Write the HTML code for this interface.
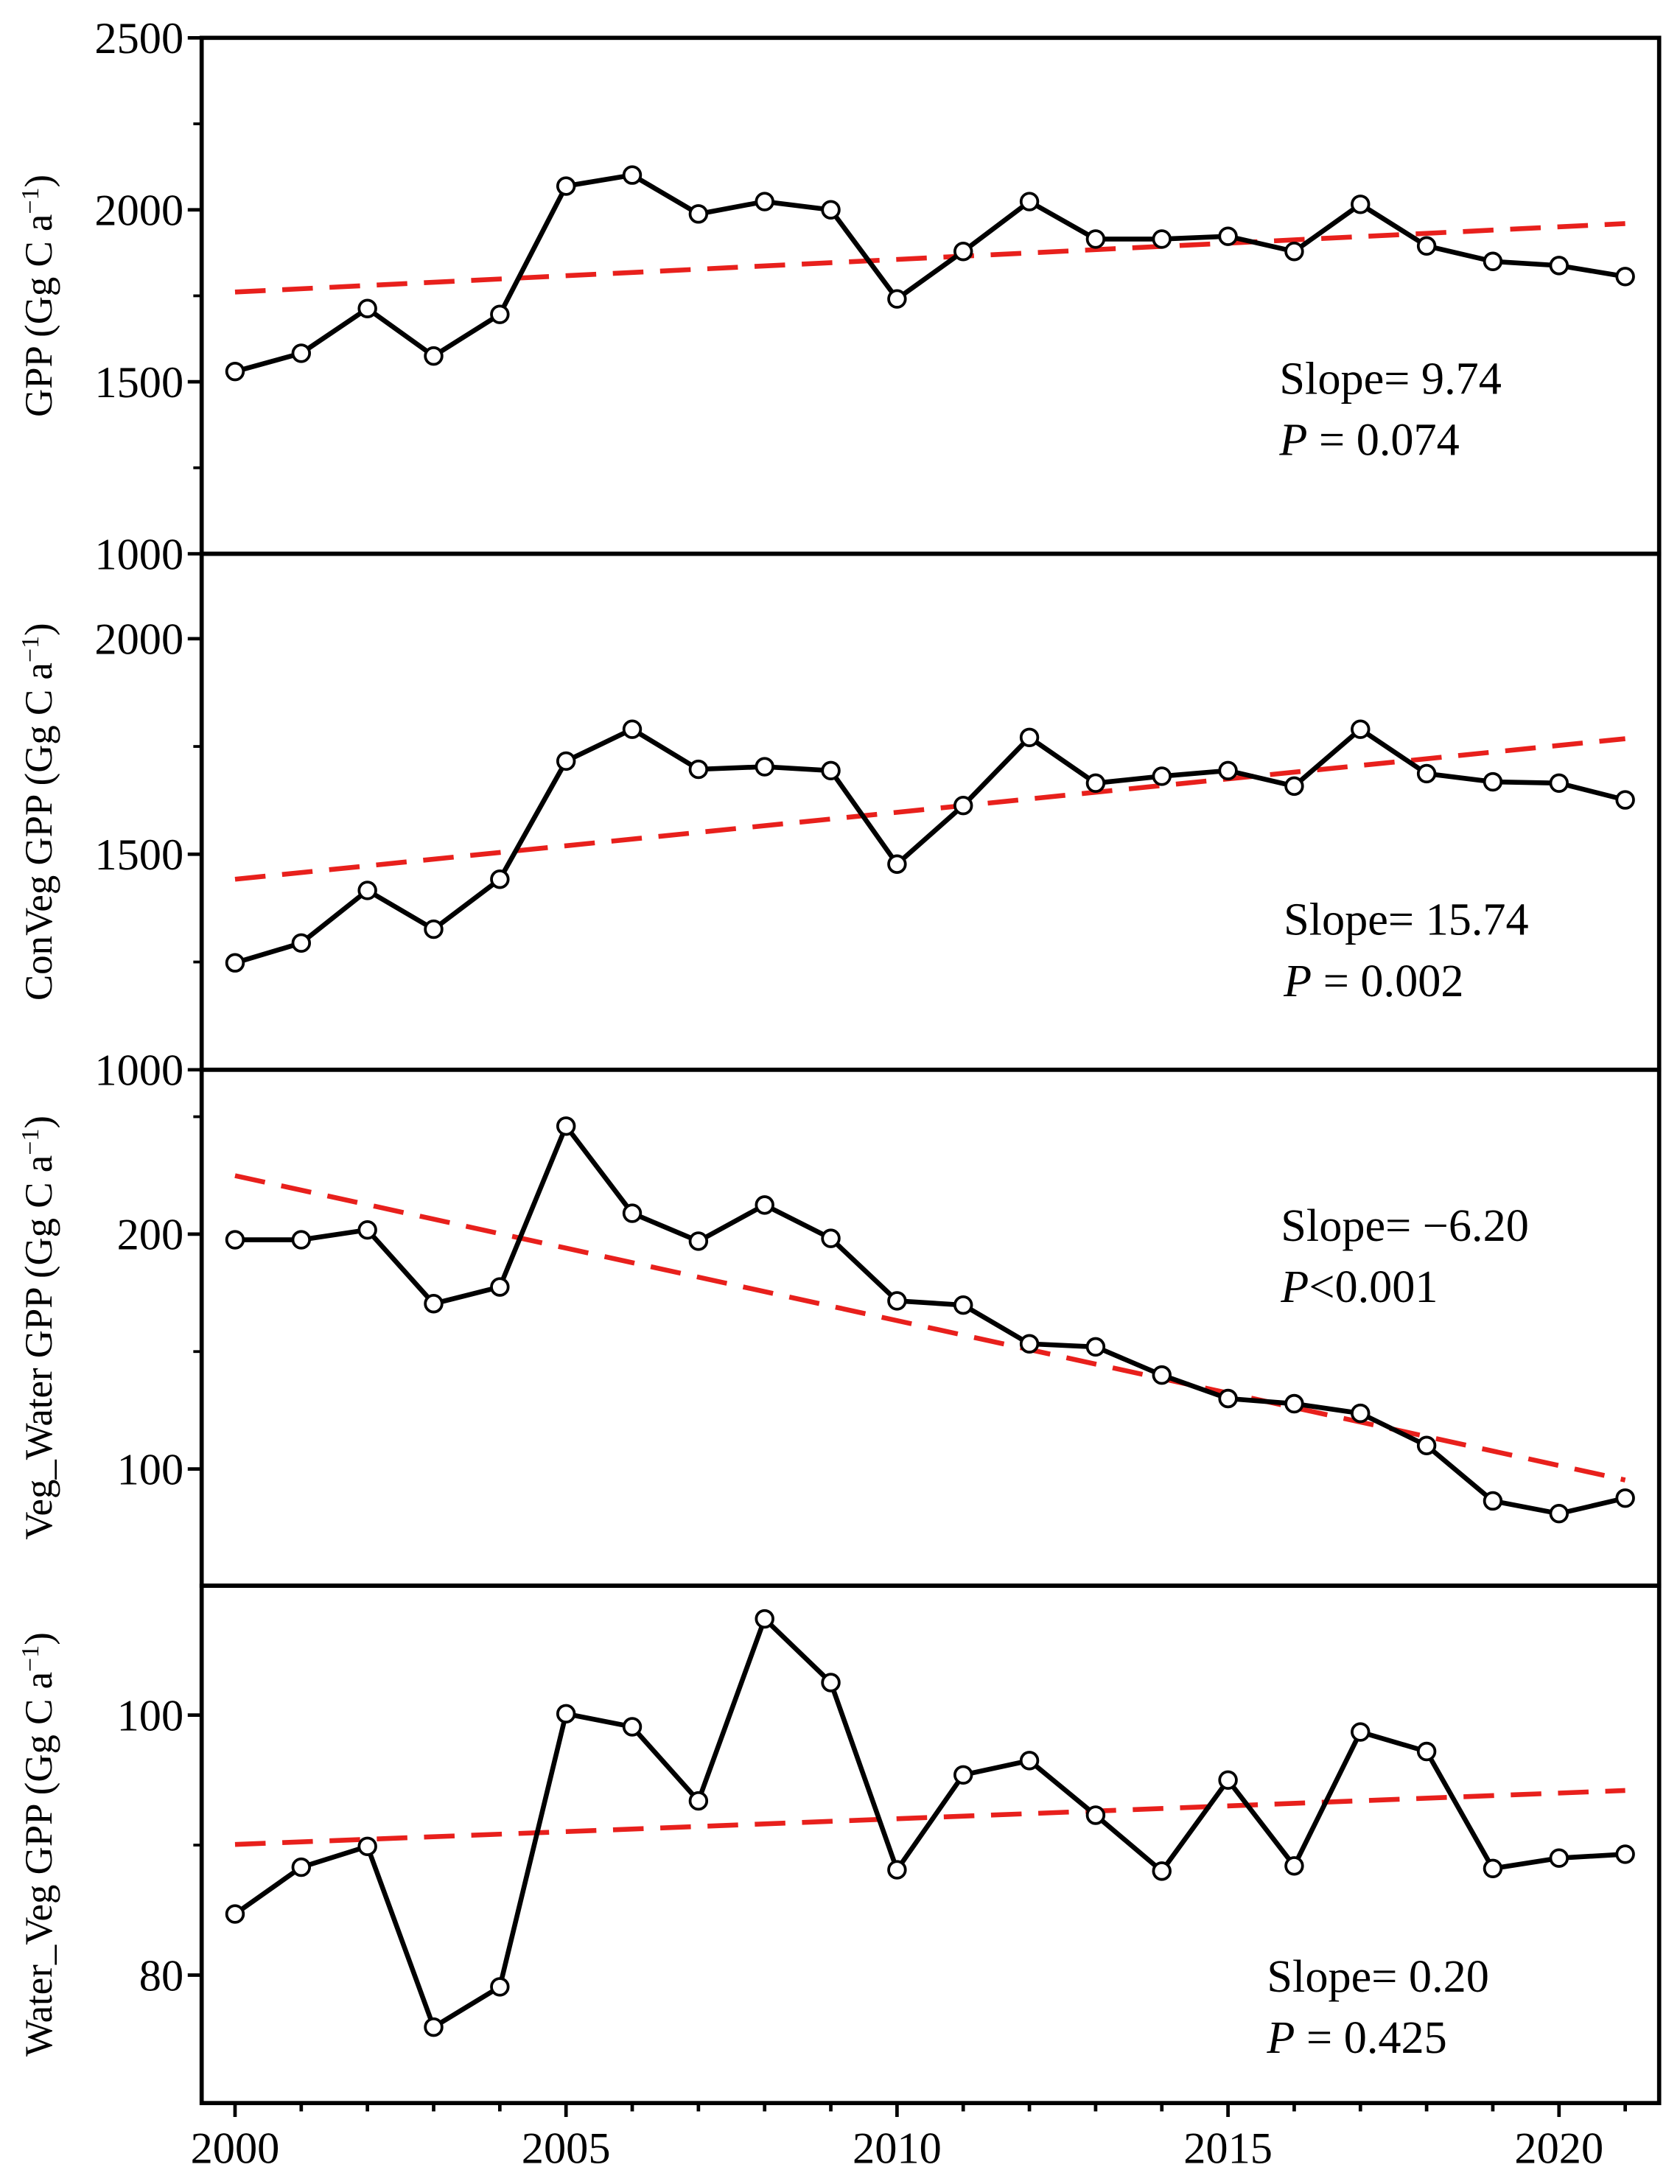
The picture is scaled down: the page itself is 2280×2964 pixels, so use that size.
<!DOCTYPE html>
<html><head><meta charset="utf-8"><style>html,body{margin:0;padding:0;background:#fff}svg{display:block}</style></head>
<body>
<svg id="chart" width="2280" height="2964" viewBox="0 0 1208 1570" xmlns="http://www.w3.org/2000/svg" font-family="'Liberation Serif', serif"></svg>
<script>
const years = [2000,2001,2002,2003,2004,2005,2006,2007,2008,2009,2010,2011,2012,2013,2014,2015,2016,2017,2018,2019,2020,2021];
const gppValues = [1530,1583,1713,1575,1696,2069,2101,1988,2024,2000,1741,1879,2024,1915,1915,1923,1879,2016,1895,1850,1838,1806];
const conVegValues = [1248,1294,1416,1326,1442,1716,1790,1697,1703,1694,1477,1613,1771,1665,1681,1694,1658,1790,1687,1668,1665,1626];
const vegWaterValues = [197.6,197.6,201.8,170.4,177.5,246,208.9,197,212.4,198.2,171.6,169.8,153.3,152,140,130,127.8,123.7,110,86.4,81,87.6];
const waterVegValues = [84.7,88.3,89.9,76,79.1,100.1,99.1,93.4,107.4,102.5,88.1,95.4,96.5,92.3,88,95,88.4,98.7,97.2,88.2,89,89.3];
const gppTrend = [1761,1960];
const conVegTrend = [1442,1768];
const vegWaterTrend = [224.9,95.3];
const waterVegTrend = [90.05,94.2];
const xTickLabels = [2000,2005,2010,2015,2020];

const NS="http://www.w3.org/2000/svg";
const svg=document.getElementById('chart');
function mk(tag,attrs,parent){const e=document.createElementNS(NS,tag);for(const k in attrs)e.setAttribute(k,attrs[k]);(parent||svg).appendChild(e);return e;}
const X0=145,X1=1193;
function xs(yr){return 169+(yr-2000)*47.6;}

const panels=[
 {name:'gpp',top:27,bot:398,min:1000,max:2500,labels:[1000,1500,2000,2500],minor:[1250,1750,2250],vals:gppValues,trend:gppTrend,title:'GPP',tx:920,ty:283,s1:'Slope= 9.74',p:['P',' = 0.074']},
 {name:'conveg',top:398,bot:769,min:1000,max:2197,labels:[1000,1500,2000],minor:[1250,1750],vals:conVegValues,trend:conVegTrend,title:'ConVeg GPP',tx:923,ty:672,s1:'Slope= 15.74',p:['P',' = 0.002']},
 {name:'vegwater',top:769,bot:1140,min:50.3,max:270,labels:[100,200],minor:[150,250],vals:vegWaterValues,trend:vegWaterTrend,title:'Veg_Water  GPP',tx:921,ty:892,s1:'Slope= \u22126.20',p:['P','<0.001']},
 {name:'waterveg',top:1140,bot:1512,min:70.16,max:109.95,labels:[80,100],minor:[90],vals:waterVegValues,trend:waterVegTrend,title:'Water_Veg GPP',tx:911,ty:1432,s1:'Slope= 0.20',p:['P',' = 0.425']}
];

panels.forEach((pn,pi)=>{
 const g=mk('g',{});
 
 
 const ys=v=>pn.bot-(v-pn.min)/(pn.max-pn.min)*(pn.bot-pn.top);
 const fr=mk('rect',{x:X0,y:pn.top,width:X1-X0,height:pn.bot-pn.top,fill:'none',stroke:'#000','stroke-width':3},g);
 
 
 pn.labels.forEach(v=>{
  const y=ys(v);
  mk('line',{x1:X0-10,x2:X0,y1:y,y2:y,stroke:'#000','stroke-width':2.5},g);
  const t=mk('text',{x:X0-13,y:y+11,'text-anchor':'end','font-size':32},g);
  t.textContent=v;
  
  
 });
 pn.minor.forEach(v=>{const y=ys(v);mk('line',{x1:X0-6,x2:X0,y1:y,y2:y,stroke:'#000','stroke-width':2},g);});
 const cy=(pn.top+pn.bot)/2;
 const tt=mk('text',{x:0,y:0,'text-anchor':'middle','font-size':28,transform:`translate(37,${cy}) rotate(-90)`},g);
 
 
 tt.appendChild(document.createTextNode(pn.title+' (Gg  C a'));
 const sup=mk('tspan',{'baseline-shift':'super','font-size':18},tt);sup.textContent='\u22121';
 tt.appendChild(document.createTextNode(')'));
 const tl=mk('line',{x1:xs(years[0]),y1:ys(pn.trend[0]),x2:xs(years[years.length-1]),y2:ys(pn.trend[1]),stroke:'#e8201c','stroke-width':3.5,'stroke-dasharray':'22 12'},g);
 
 
 const pts=pn.vals.map((v,i)=>xs(years[i])+','+ys(v)).join(' ');
 const pl=mk('polyline',{points:pts,fill:'none',stroke:'#000','stroke-width':3.5},g);
 
 
 pn.vals.forEach((v,i)=>{
  const c=mk('circle',{cx:xs(years[i]),cy:ys(v),r:6,fill:'#fff',stroke:'#000','stroke-width':2},g);
  
  
 });
 const a1=mk('text',{x:pn.tx,y:pn.ty,'font-size':33},g);a1.textContent=pn.s1;
 
 
 const a2=mk('text',{x:pn.tx,y:pn.ty+44,'font-size':33},g);
 
 
 const it=mk('tspan',{'font-style':'italic'},a2);it.textContent=pn.p[0];
 a2.appendChild(document.createTextNode(pn.p[1]));
});
years.forEach(yr=>{
 const x=xs(yr);const major=xTickLabels.includes(yr);
 mk('line',{x1:x,x2:x,y1:1512,y2:1512+(major?10:6),stroke:'#000','stroke-width':2.5});
});
xTickLabels.forEach(yr=>{
 const t=mk('text',{x:xs(yr),y:1555,'text-anchor':'middle','font-size':32});
 t.textContent=yr;
 
 
});
</script>
</body></html>
